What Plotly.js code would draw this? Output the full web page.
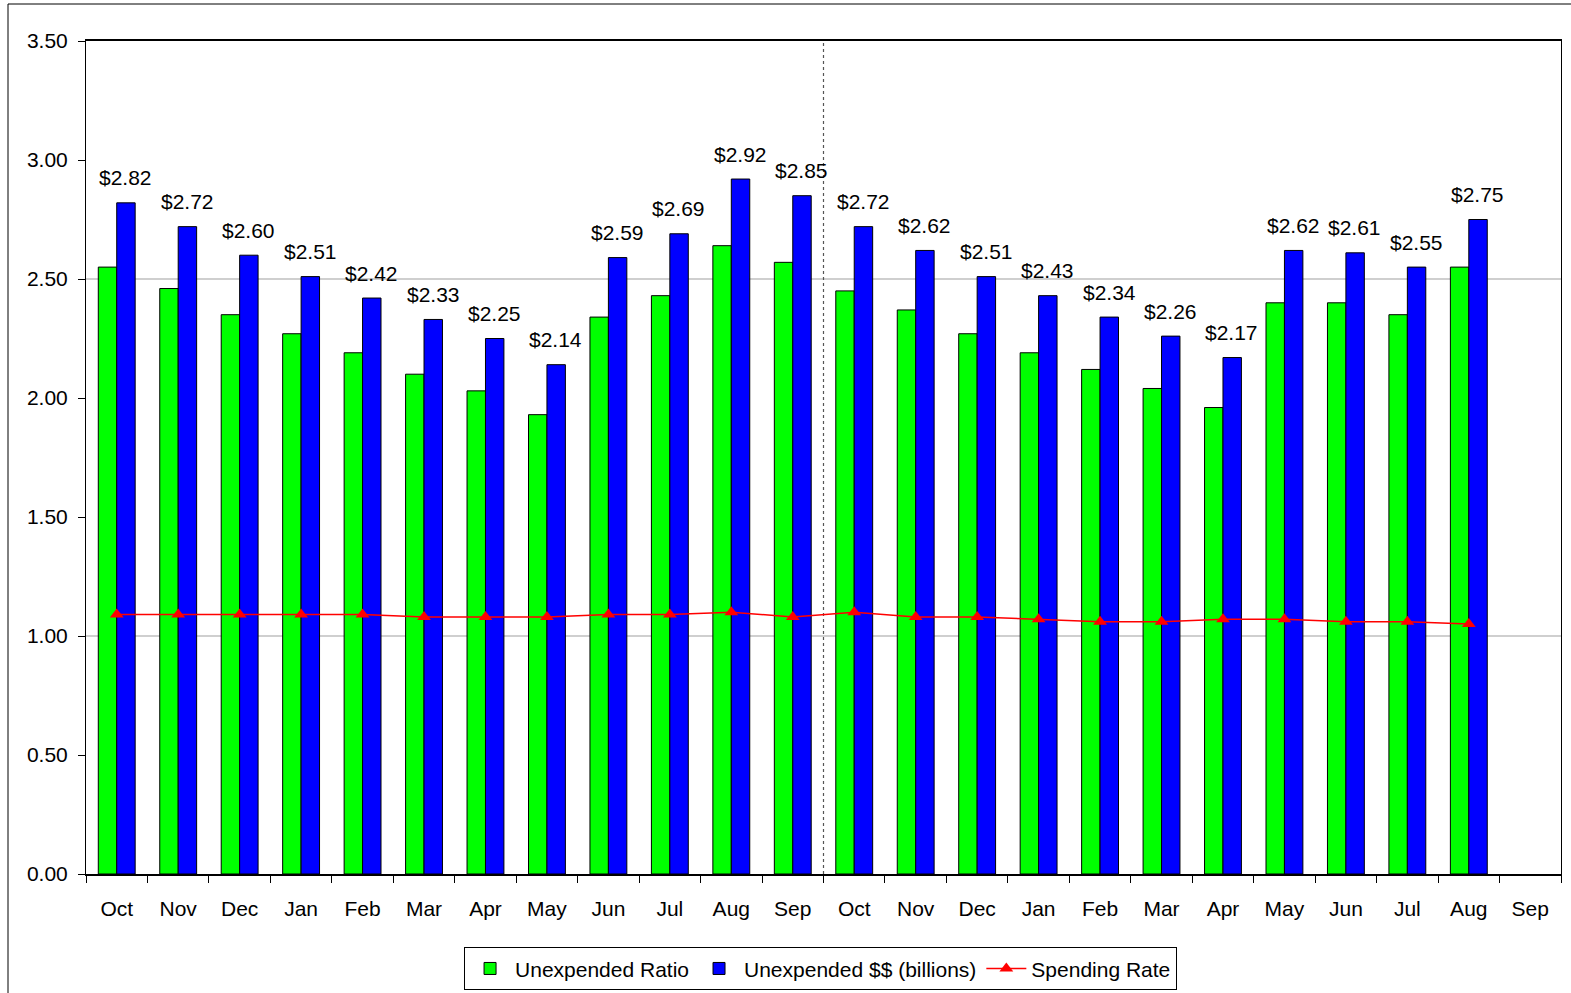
<!DOCTYPE html>
<html>
<head>
<meta charset="utf-8">
<script src="https://cdn.plot.ly/plotly-3.0.1.min.js"></script>
<style>html,body{margin:0;padding:0;background:#fff;}#chart{width:1571px;height:993px;}</style>
</head>
<body>
<div id="chart"></div>
<script>
// Month labels (two fiscal years, last Sep empty)
const months = ["Oct","Nov","Dec","Jan","Feb","Mar","Apr","May","Jun","Jul","Aug","Sep",
                "Oct","Nov","Dec","Jan","Feb","Mar","Apr","May","Jun","Jul","Aug","Sep"];
const positions = months.map((m, i) => i);

// Series values
const unexpendedRatio = [2.55, 2.46, 2.35, 2.27, 2.19, 2.10, 2.03, 1.93, 2.34, 2.43, 2.64, 2.57,
                         2.45, 2.37, 2.27, 2.19, 2.12, 2.04, 1.96, 2.40, 2.40, 2.35, 2.55, null];
const unexpendedDollars = [2.82, 2.72, 2.60, 2.51, 2.42, 2.33, 2.25, 2.14, 2.59, 2.69, 2.92, 2.85,
                           2.72, 2.62, 2.51, 2.43, 2.34, 2.26, 2.17, 2.62, 2.61, 2.55, 2.75, null];
const spendingRate = [1.09, 1.09, 1.09, 1.09, 1.09, 1.08, 1.08, 1.08, 1.09, 1.09, 1.10, 1.08,
                      1.10, 1.08, 1.08, 1.07, 1.06, 1.06, 1.07, 1.07, 1.06, 1.06, 1.05, null];
const yTicks = [0, 0.5, 1.0, 1.5, 2.0, 2.5, 3.0, 3.5];
const gridValues = [1.0, 2.5];
const yearDivider = 11.5;

const regular = "Liberation Sans, Arial, sans-serif";
const FS = 21;

const traces = [
  {
    type: "bar", name: "Unexpended Ratio", x: positions, y: unexpendedRatio,
    marker: {color: "#00FF00", line: {color: "#000000", width: 1}},
    hoverinfo: "skip"
  },
  {
    type: "bar", name: "Unexpended $$ (billions)", x: positions, y: unexpendedDollars,
    marker: {color: "#0000FF", line: {color: "#000000", width: 1}},
    hoverinfo: "skip"
  },
  {
    type: "scatter", mode: "lines+markers", name: "Spending Rate", x: positions, y: spendingRate,
    line: {color: "#FF0000", width: 1.5},
    marker: {symbol: "triangle-up", size: 12, color: "#FF0000"},
    hoverinfo: "skip"
  }
];

// data labels above the blue bars
const annotations = [];
positions.forEach((p, i) => {
  const v = unexpendedDollars[i];
  if (v === null) return;
  annotations.push({
    x: p, y: v, xref: "x", yref: "y",
    text: "$" + v.toFixed(2), showarrow: false,
    xanchor: "center", yanchor: "middle", xshift: 9, yshift: 25,
    font: {family: regular, size: FS, color: "#000000"}
  });
});

const shapes = gridValues.map(v => ({
  type: "line", xref: "paper", yref: "y", x0: 0, x1: 1, y0: v, y1: v,
  line: {color: "#BFBFBF", width: 1.5}, layer: "below"
}));
shapes.push({
  type: "line", xref: "x", yref: "paper", x0: yearDivider, x1: yearDivider, y0: 0, y1: 1,
  line: {color: "#555555", width: 1.2, dash: "dot"}, layer: "below"
});
// outer chart border (top and left visible)
shapes.push({
  type: "rect", xref: "paper", yref: "paper",
  x0: (8 - 86) / 1475, x1: 1.03, y0: -0.2, y1: 1 + 37 / 833,
  line: {color: "#000000", width: 1}, fillcolor: "rgba(0,0,0,0)", layer: "below"
});

const layout = {
  width: 1571, height: 993,
  margin: {l: 86, r: 10, t: 41, b: 119, autoexpand: false},
  paper_bgcolor: "#FFFFFF", plot_bgcolor: "#FFFFFF",
  barmode: "group", bargap: 0.4, bargroupgap: 0,
  showlegend: true,
  legend: {
    orientation: "h", x: 0.498, xanchor: "center", y: -0.088, yanchor: "top",
    bordercolor: "#000000", borderwidth: 1, bgcolor: "#FFFFFF",
    font: {family: regular, size: FS, color: "#000000"},
    traceorder: "normal", itemwidth: 40, tracegroupgap: 0
  },
  xaxis: {
    range: [-0.5, 23.5], tickmode: "array", tickvals: positions, ticktext: months,
    ticks: "", showgrid: false, zeroline: false, automargin: false,
    showline: true, linecolor: "#000000", linewidth: 2, mirror: true,
    tickfont: {family: regular, size: FS, color: "#000000"},
    ticklabelstandoff: 15,
    minor: {tick0: 0.5, dtick: 1, ticks: "outside", ticklen: 7, tickcolor: "#000000", tickwidth: 1, showgrid: false}
  },
  yaxis: {
    range: [0, 3.5], tickmode: "array", tickvals: yTicks, tickformat: ".2f",
    ticks: "outside", ticklen: 7, tickcolor: "#000000", automargin: false,
    showgrid: false, zeroline: false,
    showline: true, linecolor: "#000000", linewidth: 1, mirror: true,
    tickfont: {family: regular, size: FS, color: "#000000"},
    ticklabelstandoff: 6
  },
  shapes: shapes,
  annotations: annotations,
  font: {family: regular, color: "#000000"}
};

Plotly.newPlot("chart", traces, layout, {displayModeBar: false, staticPlot: true});
</script>
</body>
</html>
